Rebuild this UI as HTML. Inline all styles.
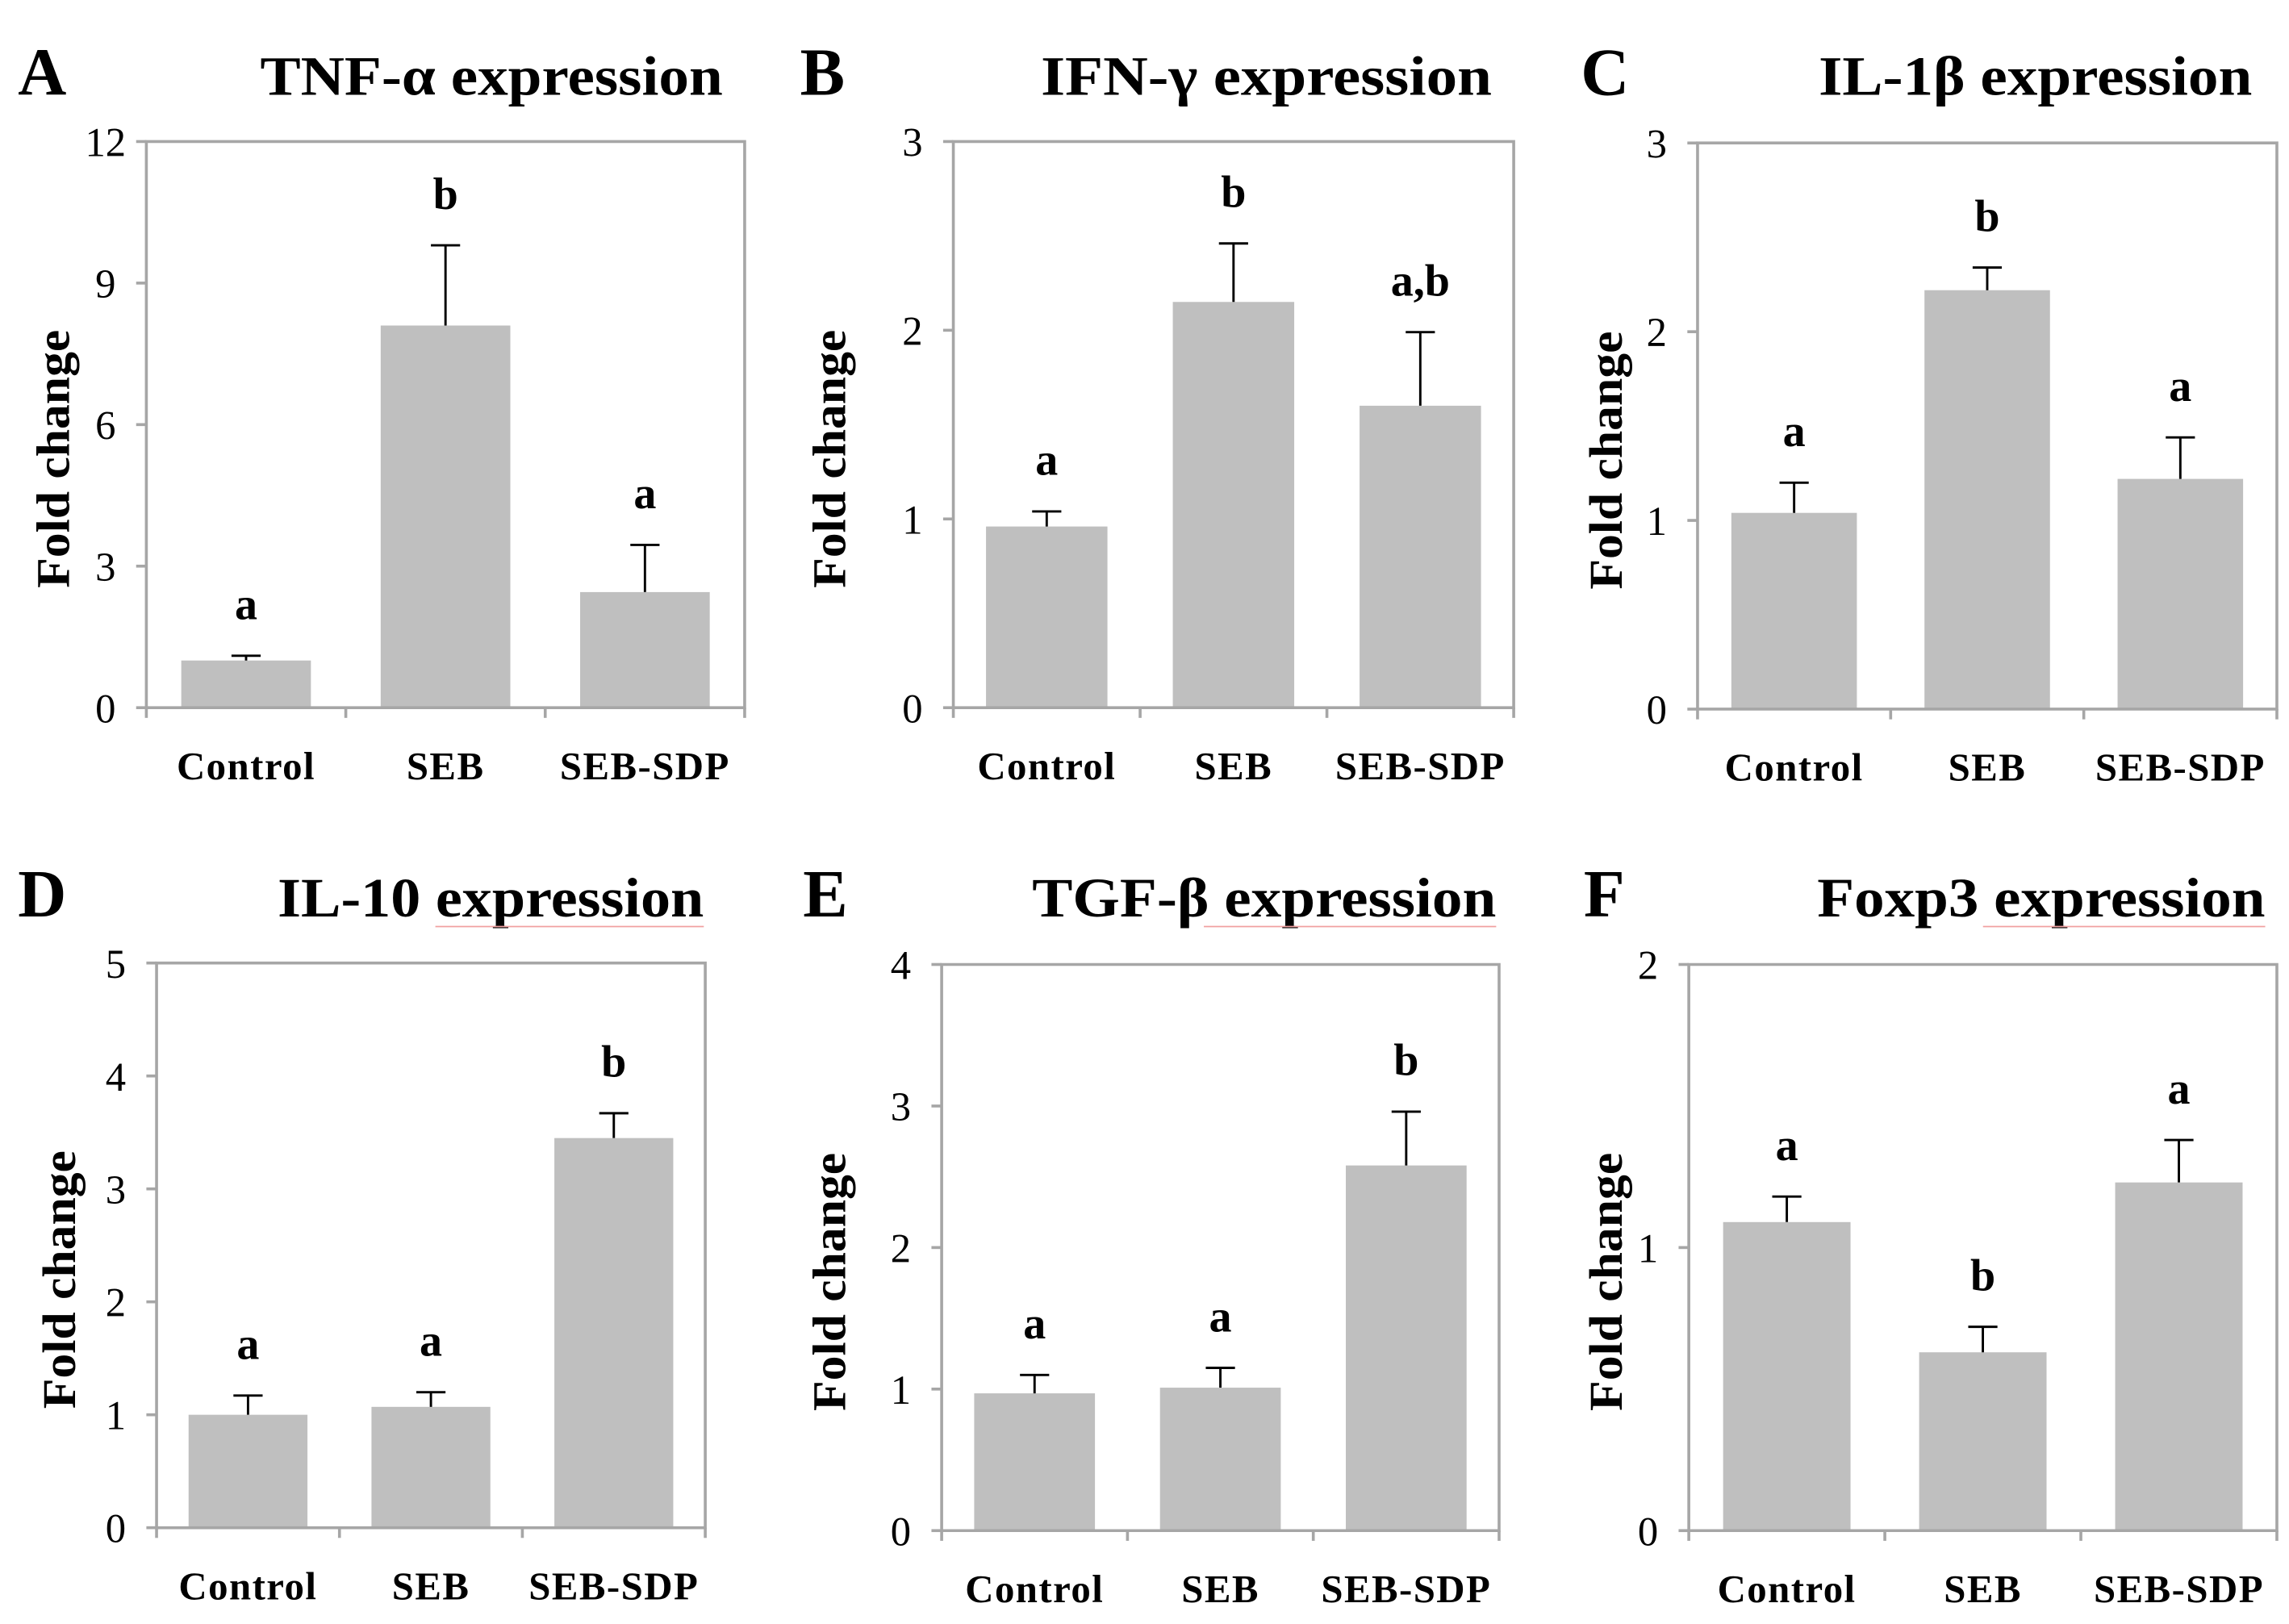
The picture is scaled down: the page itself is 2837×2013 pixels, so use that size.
<!DOCTYPE html>
<html><head><meta charset="utf-8"><style>
html,body{margin:0;padding:0;background:#fff}
svg{display:block}
text{font-family:"Liberation Serif",serif}
</style></head><body>
<svg id="fig" width="2837" height="2013" viewBox="0 0 1568 1113" xmlns="http://www.w3.org/2000/svg"></svg>
<script>
const categories = ["Control","SEB","SEB-SDP"];
const titles = ["TNF-α expression","IFN-γ expression","IL-1β expression","IL-10 expression","TGF-β expression","Foxp3 expression"];
const panelLetters = ["A","B","C","D","E","F"];
const yMax = [12,3,3,5,4,2];
const yStep = [3,1,1,1,1,1];
const meansA = [1.0,8.1,2.45], errA = [1.1,9.8,3.45], sigA = ["a","b","a"];
const meansB = [0.96,2.15,1.6], errB = [1.04,2.46,1.99], sigB = ["a","b","a,b"];
const meansC = [1.04,2.22,1.22], errC = [1.2,2.34,1.44], sigC = ["a","b","a"];
const meansD = [1.0,1.07,3.45], errD = [1.17,1.2,3.67], sigD = ["a","a","b"];
const meansE = [0.97,1.01,2.58], errE = [1.1,1.15,2.96], sigE = ["a","a","b"];
const meansF = [1.09,0.63,1.23], errF = [1.18,0.72,1.38], sigF = ["a","b","a"];
const means = [meansA,meansB,meansC,meansD,meansE,meansF];
const errs = [errA,errB,errC,errD,errE,errF];
const sigs = [sigA,sigB,sigC,sigD,sigE,sigF];

// layout (not data)
const frames = [
 {l:100,r:510,t:97,b:485,letterX:12,titleR:495,titleW:317,ylabX:36,base:65},
 {l:653,r:1037,t:97,b:485,letterX:548,titleR:1022,titleW:309,ylabX:568,base:65},
 {l:1163,r:1560,t:98,b:486,letterX:1083,titleR:1543,titleW:297,ylabX:1100,base:65},
 {l:107,r:483,t:660,b:1047,letterX:12,titleR:482,titleW:292,ylabX:40,base:628},
 {l:645,r:1027,t:661,b:1049,letterX:550,titleR:1025,titleW:318,ylabX:568,base:628},
 {l:1157,r:1560,t:661,b:1049,letterX:1085,titleR:1552,titleW:307,ylabX:1100,base:628}
];
const svg = document.getElementById('fig');
const NS = "http://www.w3.org/2000/svg";
function mk(tag, attrs, parent, txt){
  const e = document.createElementNS(NS, tag);
  for (const k in attrs) e.setAttribute(k, attrs[k]);
  if (txt !== undefined) e.textContent = txt;
  parent.appendChild(e);
  return e;
}
frames.forEach((f, p) => {
  const g = mk('g', {}, svg);
  
  
  const y = v => f.b - (v / yMax[p]) * (f.b - f.t);
  const cw = (f.r - f.l) / categories.length;
  const x = i => f.l + cw * (i + 0.5);
  const bw = cw * 0.65;

  const L = mk('text', {x:f.letterX, y:f.base, 'font-size':46, 'font-weight':'bold'}, g, panelLetters[p]);
  
  
  const T = mk('text', {x:f.titleR - f.titleW, y:f.base, 'font-size':38, 'font-weight':'bold', textLength:f.titleW, lengthAdjust:'spacingAndGlyphs'}, g, titles[p]);
  
  
  if (p >= 3) {
    const ul = mk('line', {x1:f.titleR-f.titleW*0.63, x2:f.titleR, y1:f.base+7, y2:f.base+7, stroke:'#f0a0a0', 'stroke-width':1}, g);
    
    
  }
  means[p].forEach((v, i) => {
    const r = mk('rect', {x:x(i)-bw/2, y:y(v), width:bw, height:f.b-y(v), fill:'#bfbfbf'}, g);
    
    
    const e = mk('path', {d:`M${x(i)},${y(v)}V${y(errs[p][i])}M${x(i)-10},${y(errs[p][i])}H${x(i)+10}`, stroke:'#000', 'stroke-width':1.6, fill:'none'}, g);
    
    
    const s = mk('text', {x:x(i), y:y(errs[p][i])-25, 'font-size':31, 'font-weight':'bold', 'text-anchor':'middle'}, g, sigs[p][i]);
    
    
  });
  const fr = mk('path', {d:`M${f.l},${f.t}H${f.r}V${f.b}H${f.l}Z`, stroke:'#a6a6a6', 'stroke-width':2, fill:'none'}, g);
  
  
  for (let v = 0; v <= yMax[p]; v += yStep[p]) {
    const tk = mk('line', {x1:f.l-7, x2:f.l, y1:y(v), y2:y(v), stroke:'#a6a6a6', 'stroke-width':2}, g);
    
    
    const tl = mk('text', {x:f.l-28, y:y(v)+10, 'font-size':28, 'text-anchor':'middle'}, g, String(v));
    
    
  }
  for (let i = 0; i <= categories.length; i++) {
    const xt = f.l + cw * i;
    const tk = mk('line', {x1:xt, x2:xt, y1:f.b, y2:f.b+7, stroke:'#a6a6a6', 'stroke-width':2}, g);
    
    
  }
  categories.forEach((c, i) => {
    const xl = mk('text', {x:x(i), y:f.b+49, 'font-size':27, 'font-weight':'bold', 'text-anchor':'middle', 'letter-spacing':0.8}, g, c);
    
    
  });
  const cy = (f.t + f.b) / 2 + 24;
  const yl = mk('text', {x:f.ylabX - 88, y:cy, 'font-size':32, 'font-weight':'bold', textLength:177, lengthAdjust:'spacingAndGlyphs', transform:`rotate(-90 ${f.ylabX} ${cy})`, dy:11}, g, 'Fold change');
  
  
});
</script>
</body></html>
